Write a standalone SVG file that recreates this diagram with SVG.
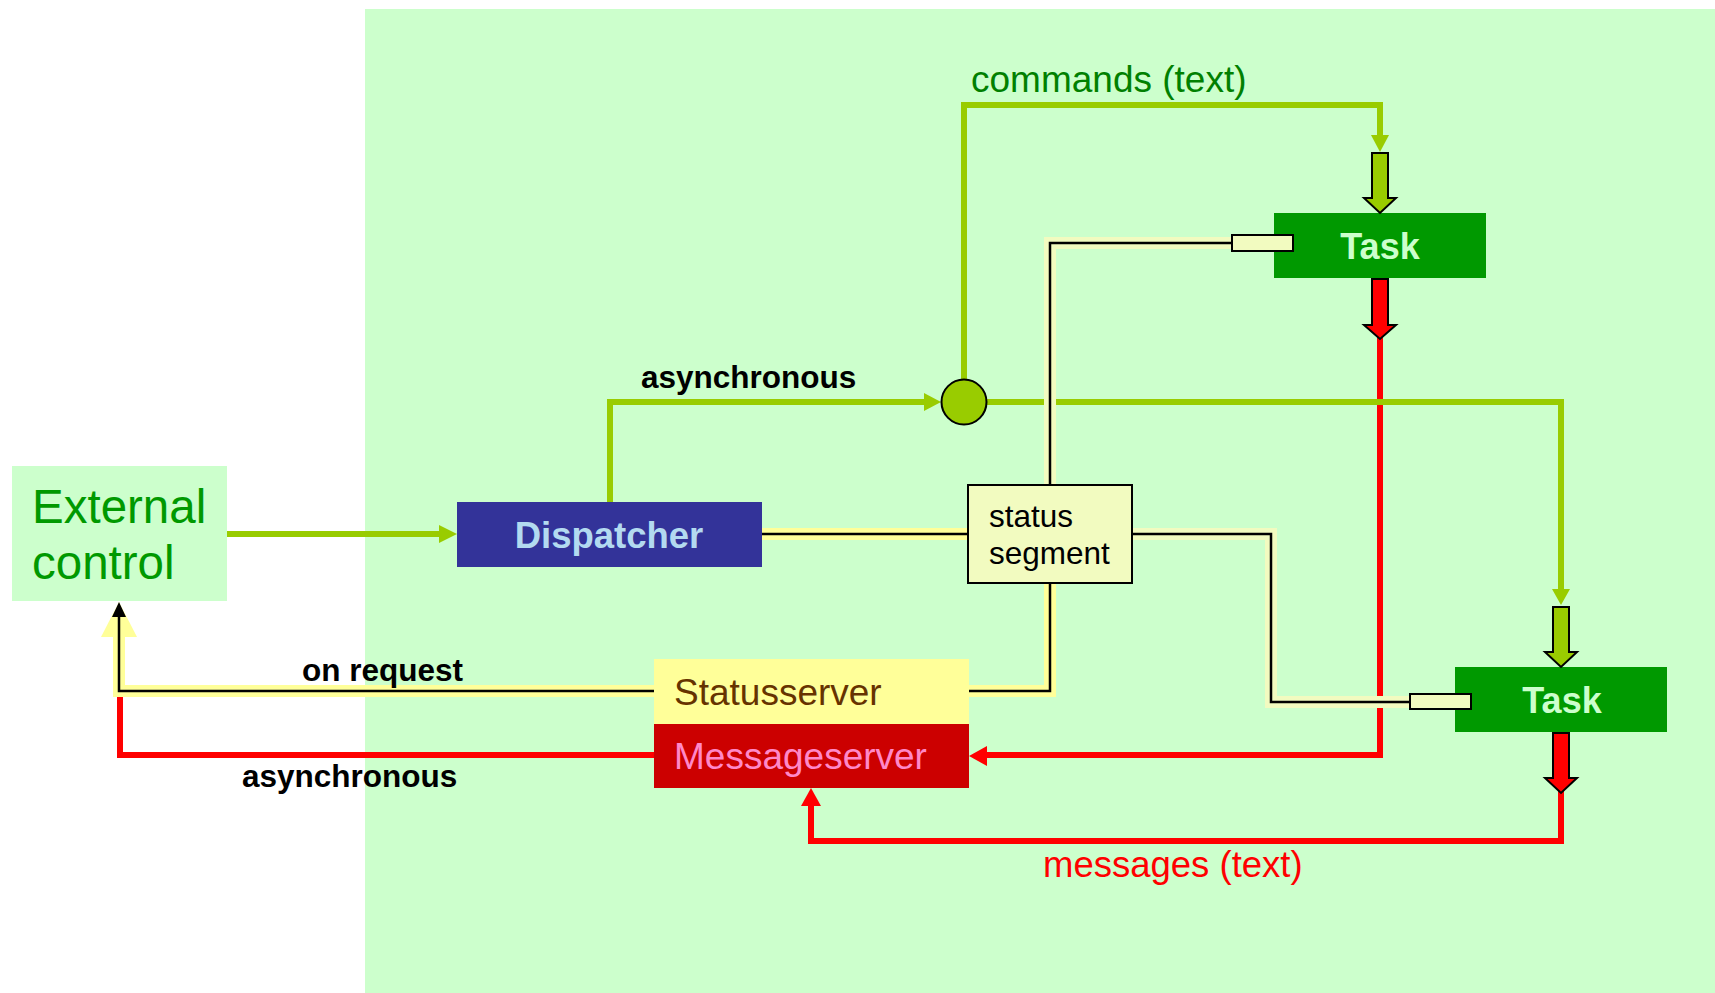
<svg xmlns="http://www.w3.org/2000/svg" width="1715" height="993" viewBox="0 0 1715 993">
  <style>
    text { font-family: "Liberation Sans", Arial, sans-serif; }
    .green-line { fill: none; stroke: #99cc00; stroke-width: 6; }
    .green-head { fill: #99cc00; }
    .red-line { fill: none; stroke: #ff0000; stroke-width: 6; }
    .red-head { fill: #ff0000; }
    .yband { fill: none; stroke: #ffff99; stroke-width: 12; }
    .yband-pale { fill: none; stroke: #f2fbc0; stroke-width: 12; }
    .blk { fill: none; stroke: #000000; stroke-width: 2.5; }
    .block-green { fill: #99cc00; stroke: #000; stroke-width: 2; stroke-linejoin: miter; }
    .block-red { fill: #ff0000; stroke: #000; stroke-width: 2; stroke-linejoin: miter; }
    .port { fill: #f2fbc0; stroke: #000; stroke-width: 2; }
    .task-box { fill: #009900; }
    .task-label { fill: #ccffcc; font-size: 36px; font-weight: bold; text-anchor: middle; }
    .label { fill: #000; font-size: 31.5px; font-weight: bold; }
  </style>

  <!-- system area -->
  <rect id="system-area" x="365" y="9" width="1350" height="984" fill="#ccffcc"/>

  <g id="connectors">
    <!-- message paths (red) -->
    <path class="red-line" d="M1380,336 V755 H986"/>
    <polygon class="red-head" points="969,756 987,746 987,766"/>
    <path class="red-line" d="M1561,791 V841 H811 V805"/>
    <polygon class="red-head" points="811,788 801,806 821,806"/>
    <path class="red-line" d="M654,755 H120 V691"/>

    <!-- command paths (green) -->
    <path class="green-line" d="M227,534 H442"/>
    <polygon class="green-head" points="457,534 439,525 439,543"/>
    <path class="green-line" d="M610,502 V402 H926"/>
    <polygon class="green-head" points="941,402 924,393 924,411"/>
    <path class="green-line" d="M964,380 V105 H1380 V137"/>
    <polygon class="green-head" points="1380,152 1371,135 1389,135"/>
    <path class="green-line" d="M986,402 H1561 V591"/>
    <polygon class="green-head" points="1561,605 1552,589 1570,589"/>

    <!-- status paths (yellow with black core) -->
    <path class="yband" d="M654,691 H119 V637"/>
    <polygon fill="#ffff99" points="101,637 137,637 119,602"/>
    <path class="blk" d="M654,691 H119 V615"/>
    <polygon fill="#000" points="112,617 126,617 119,602"/>

    <path class="yband" d="M969,691 H1050 V583"/>
    <path class="blk" d="M969,691 H1050 V583"/>

    <path class="yband" d="M762,534 H968"/>
    <path class="blk" d="M762,534 H968"/>

    <path class="yband-pale" d="M1050,485 V243 H1232"/>
    <path class="blk" d="M1050,485 V243 H1232"/>

    <path class="yband-pale" d="M1132,534 H1271 V702 H1410"/>
    <path class="blk" d="M1132,534 H1271 V702 H1410"/>

    <!-- labels -->
    <text class="label" x="641" y="388">asynchronous</text>
    <text class="label" x="302" y="681">on request</text>
    <text class="label" x="242" y="787">asynchronous</text>
    <text x="971" y="92" font-size="37" fill="#008000">commands (text)</text>
    <text x="1043" y="877" font-size="36.5" fill="#ff0000">messages (text)</text>
  </g>

  <g id="external-control">
    <rect x="12" y="466" width="215" height="135" fill="#ccffcc"/>
    <text x="32" y="523" font-size="47.5" fill="#009900">External</text>
    <text x="32" y="579" font-size="47.5" fill="#009900">control</text>
  </g>

  <g id="dispatcher">
    <rect x="457" y="502" width="305" height="65" fill="#333399"/>
    <text x="609" y="548" font-size="36.5" font-weight="bold" fill="#b3daf0" text-anchor="middle">Dispatcher</text>
  </g>

  <g id="distributor">
    <circle cx="964" cy="402" r="22.5" fill="#99cc00" stroke="#000" stroke-width="2"/>
  </g>

  <g id="status-segment">
    <rect x="968" y="485" width="164" height="98" fill="#f2fbc0" stroke="#000" stroke-width="2"/>
    <text x="989" y="527" font-size="31.5" fill="#000">status</text>
    <text x="989" y="564" font-size="31.5" fill="#000">segment</text>
  </g>

  <g id="statusserver">
    <rect x="654" y="659" width="315" height="65" fill="#ffff99"/>
    <text x="674" y="705" font-size="37" fill="#663300">Statusserver</text>
  </g>

  <g id="messageserver">
    <rect x="654" y="724" width="315" height="64" fill="#cc0000"/>
    <text x="674" y="769" font-size="37" fill="#ff88c8">Messageserver</text>
  </g>

  <g id="task-1">
    <rect class="task-box" x="1274" y="213" width="212" height="65"/>
    <text class="task-label" x="1380" y="259">Task</text>
    <path class="block-green" d="M1372,153 H1388 V198 H1396 L1380,213 L1364,198 H1372 Z"/>
    <path class="block-red" d="M1372,279 H1388 V325 H1396 L1380,339 L1364,325 H1372 Z"/>
    <rect class="port" x="1232" y="235" width="61" height="16"/>
  </g>

  <g id="task-2">
    <rect class="task-box" x="1455" y="667" width="212" height="65"/>
    <text class="task-label" x="1562" y="713">Task</text>
    <path class="block-green" d="M1553,607 H1569 V652 H1577 L1561,667 L1545,652 H1553 Z"/>
    <path class="block-red" d="M1553,733 H1569 V778 H1577 L1561,793 L1545,778 H1553 Z"/>
    <rect class="port" x="1410" y="694" width="61" height="15"/>
  </g>
</svg>
